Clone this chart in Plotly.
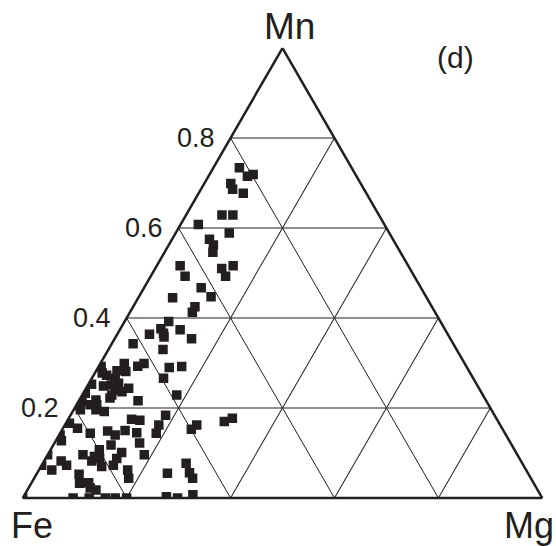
import plotly.graph_objects as go

# Mn (apex) and Mg (bottom-right) mole fractions; Fe = remainder
mn = [0.734, 0.715, 0.719, 0.699, 0.686, 0.677, 0.629, 0.629, 0.608, 0.589,
      0.575, 0.562, 0.546, 0.516, 0.493, 0.510, 0.516, 0.493, 0.467, 0.447,
      0.445, 0.425, 0.413, 0.392, 0.376, 0.366, 0.364, 0.374, 0.354, 0.358,
      0.343, 0.330, 0.292, 0.299, 0.293, 0.299, 0.290, 0.292, 0.283, 0.281,
      0.273, 0.266, 0.266, 0.253, 0.249, 0.251, 0.255, 0.244, 0.236, 0.229,
      0.222, 0.233, 0.218, 0.229, 0.216, 0.214, 0.207, 0.207, 0.196, 0.196,
      0.192, 0.175, 0.173, 0.184, 0.162, 0.144, 0.162, 0.153, 0.170, 0.177,
      0.166, 0.155, 0.144, 0.149, 0.140, 0.150, 0.145, 0.140, 0.127, 0.107,
      0.118, 0.122, 0.101, 0.096, 0.096, 0.092, 0.088, 0.088, 0.096, 0.082,
      0.073, 0.082, 0.073, 0.062, 0.070, 0.073, 0.062, 0.077, 0.056, 0.055,
      0.044, 0.053, 0.033, 0.034, 0.044, 0.018, 0.022, 0.000, 0.000, 0.000,
      0.000, 0.000, 0.000, 0.003, 0.000, 0.007, 0.240, 0.207, 0.278]
mg = [0.050, 0.075, 0.084, 0.051, 0.061, 0.086, 0.069, 0.090, 0.034, 0.103,
      0.072, 0.086, 0.093, 0.045, 0.066, 0.128, 0.147, 0.144, 0.110, 0.139,
      0.066, 0.119, 0.120, 0.085, 0.078, 0.088, 0.062, 0.116, 0.148, 0.093,
      0.041, 0.105, 0.005, 0.046, 0.075, 0.084, 0.137, 0.160, 0.040, 0.058,
      0.025, 0.045, 0.138, 0.006, 0.031, 0.045, 0.057, 0.082, 0.073, 0.057,
      0.057, 0.004, 0.032, 0.182, 0.114, 0.007, 0.003, 0.027, 0.013, 0.043,
      0.061, 0.122, 0.139, 0.183, 0.181, 0.185, 0.254, 0.248, 0.303, 0.315,
      0.007, 0.028, 0.058, 0.089, 0.108, 0.122, 0.147, 0.002, 0.011, 0.094,
      0.111, 0.164, 0.140, 0.000, 0.068, 0.092, 0.104, 0.137, 0.186, 0.092,
      0.000, 0.033, 0.048, 0.025, 0.117, 0.138, 0.171, 0.276, 0.293, 0.251,
      0.182, 0.082, 0.093, 0.110, 0.305, 0.132, 0.119, 0.000, 0.097, 0.128,
      0.159, 0.178, 0.200, 0.275, 0.298, 0.324, 0.058, 0.039, 0.014]
fe = [round(1 - a - c, 3) for a, c in zip(mn, mg)]

tick_vals = [0.2, 0.4, 0.6, 0.8]
tick_text = ["0.2", "0.4", "0.6", "0.8"]

FONT = "Liberation Sans, Arial, Helvetica, sans-serif"
INK = "#231f20"

W, H = 556, 546
ML, MR, MT, MB = 22, 13, 48, 48
PW = W - ML - MR           # plot-area width in px
TRI_H = H - MT - MB        # triangle height in px (height-limited)
TRI_W = TRI_H * 2 / 3 ** 0.5
X0 = (PW - TRI_W) / 2      # px offset of the Fe corner inside plot area

fig = go.Figure()
fig.add_trace(go.Scatterternary(
    a=mn, b=fe, c=mg, mode="markers",
    marker=dict(symbol="square", size=9.5, color=INK, line=dict(width=0)),
    hoverinfo="skip", showlegend=False,
))

axis_common = dict(
    min=0, linecolor=INK, linewidth=2.5, showline=True,
    showgrid=True, gridcolor=INK, gridwidth=1,
    ticks="", title=dict(text=""), showticklabels=False,
    tickmode="linear", tick0=0, dtick=0.2,
)

# Mn tick labels, placed just left of the Fe–Mn edge at each Mn level
tick_annotations = [
    dict(text=t, xref="paper", yref="paper",
         x=(X0 + v * TRI_W / 2 - 15) / PW, y=v,
         xanchor="right", yanchor="middle", showarrow=False, borderpad=0,
         font=dict(size=27, family=FONT, color=INK))
    for v, t in zip(tick_vals, tick_text)
]

fig.update_layout(
    width=W, height=H,
    margin=dict(l=ML, r=MR, t=MT, b=MB),
    paper_bgcolor="white",
    font=dict(family=FONT, color=INK),
    ternary=dict(
        sum=1,
        bgcolor="white",
        aaxis=axis_common,
        baxis=axis_common,
        caxis=axis_common,
    ),
    annotations=tick_annotations + [
        dict(text="Mn", x=0.5125, y=1.047, xref="paper", yref="paper",
             showarrow=False, xanchor="center", yanchor="middle", borderpad=0,
             font=dict(size=37, family=FONT, color=INK)),
        dict(text="Fe", x=0.019, y=-0.060, xref="paper", yref="paper",
             showarrow=False, xanchor="center", yanchor="middle", borderpad=0,
             font=dict(size=36, family=FONT, color=INK)),
        dict(text="Mg", x=0.973, y=-0.060, xref="paper", yref="paper",
             showarrow=False, xanchor="center", yanchor="middle", borderpad=0,
             font=dict(size=36, family=FONT, color=INK)),
        dict(text="(d)", x=0.833, y=0.98, xref="paper", yref="paper",
             showarrow=False, xanchor="center", yanchor="middle", borderpad=0,
             font=dict(size=30, family=FONT, color=INK)),
    ],
)

fig.write_html(
    "out.html",
    config={"displayModeBar": False, "staticPlot": True},
    post_script="document.body.style.margin='0';"
                "document.body.style.overflow='hidden';",
)
